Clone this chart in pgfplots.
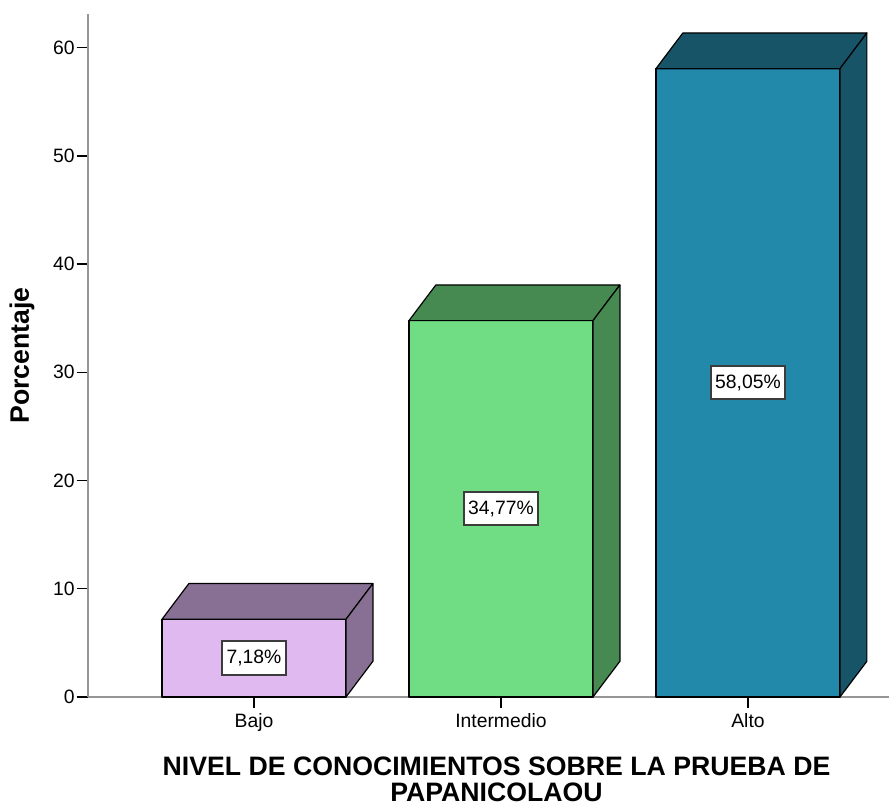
\documentclass[border=0pt]{standalone}
\usepackage{fontspec}
\setmainfont{Liberation Sans}
\usepackage{pgfplots}
\pgfplotsset{compat=1.18}

\definecolor{bajoF}{RGB}{223,185,240}
\definecolor{bajoD}{RGB}{135,112,148}
\definecolor{interF}{RGB}{112,220,132}
\definecolor{interD}{RGB}{70,138,82}
\definecolor{altoF}{RGB}{34,137,170}
\definecolor{altoD}{RGB}{24,84,104}
\definecolor{axisgray}{RGB}{150,150,150}
\definecolor{boxgray}{RGB}{60,60,60}

% 3D box: #1 centre, #2 value, #3 front colour, #4 dark colour
\newcommand{\cajabar}[4]{%
  \pgfmathsetmacro\xl{#1-0.3725}%
  \pgfmathsetmacro\xr{#1+0.3725}%
  \pgfmathsetmacro\xlb{#1-0.3725+0.109}%
  \pgfmathsetmacro\xrb{#1+0.3725+0.109}%
  \pgfmathsetmacro\yt{#2+3.3}%
  \edef\dobar{%
    \noexpand\addplot[fill=#3, draw=black, line width=0.9pt, line join=round]
      coordinates {(\xl,0) (\xr,0) (\xr,#2) (\xl,#2)} -- cycle;
    \noexpand\addplot[fill=#4, draw=black, line width=0.9pt, line join=round]
      coordinates {(\xl,#2) (\xr,#2) (\xrb,\yt) (\xlb,\yt)} -- cycle;
    \noexpand\addplot[fill=#4, draw=black, line width=0.9pt, line join=round]
      coordinates {(\xr,0) (\xrb,3.3) (\xrb,\yt) (\xr,#2)} -- cycle;
  }\dobar}

\begin{document}
\begin{tikzpicture}
\useasboundingbox (-66pt,-82.5pt) rectangle (600.75pt,522.75pt);
\begin{axis}[
  at={(0,0)}, anchor=south west,
  scale only axis, width=600.75pt, height=512.25pt,
  xmin=-0.672, xmax=2.571, ymin=0, ymax=63.1,
  axis x line=bottom, axis y line=left,
  axis line style={-, draw=axisgray, line width=1.5pt},
  xtick={0,1,2}, xticklabels={Bajo,Intermedio,Alto},
  ytick={0,10,20,30,40,50,60},
  tick align=outside, major tick length=8.5pt,
  tick style={black, line width=1.1pt},
  ticklabel style={font=\fontsize{14.5}{17}\selectfont},
  yticklabel style={xshift=2pt},
  /pgf/number format/assume math mode=true,
  xlabel={NIVEL DE CONOCIMIENTOS SOBRE LA PRUEBA DE\\PAPANICOLAOU},
  ylabel={Porcentaje},
  every axis x label/.style={at={(axis description cs:0.51,0)}, anchor=center,
    yshift=-62pt, align=center, font=\fontsize{20}{19.5}\selectfont\bfseries},
  every axis y label/.style={at={(axis description cs:-0.0824,0.5)}, anchor=center,
    rotate=90, font=\fontsize{20}{24}\selectfont\bfseries},
]
\cajabar{0}{7.18}{bajoF}{bajoD}
\cajabar{1}{34.77}{interF}{interD}
\cajabar{2}{58.05}{altoF}{altoD}

\addplot[draw=none, mark=none, nodes near coords, point meta=explicit symbolic,
  every node near coord/.append style={anchor=center, fill=white,
    draw=boxgray, line width=1.5pt, inner xsep=3.5pt, inner ysep=2pt,
    minimum height=25pt, font=\fontsize{14.5}{17}\selectfont}]
  coordinates {(0,3.59) [7,18\%] (1,17.385) [34,77\%] (2,29.025) [58,05\%]};
\end{axis}
\end{tikzpicture}
\end{document}
